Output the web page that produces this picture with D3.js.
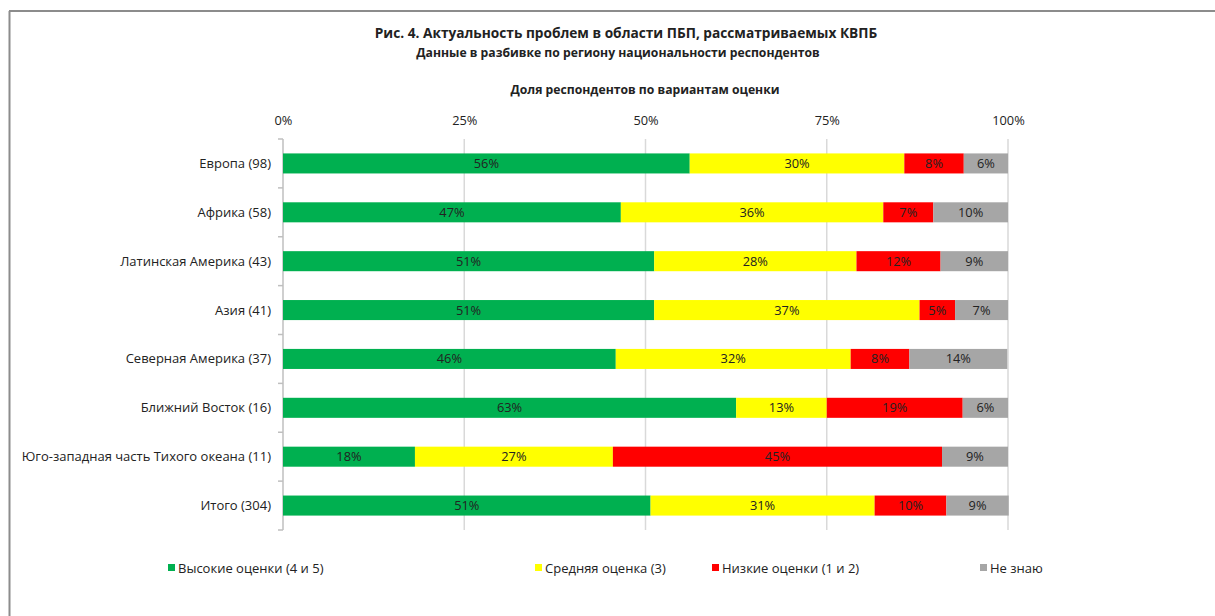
<!DOCTYPE html>
<html>
<head>
<meta charset="utf-8">
<script src="https://cdn.jsdelivr.net/npm/d3@7"></script>
<style>
  body { margin: 0; background: #fff; }
  text { font-family: "Open Sans", Lato, sans-serif; fill: #222; }
</style>
</head>
<body>
<svg id="chart" width="1215" height="616"></svg>
<script>
// regions (with respondent count) and shares in %
var regions = ["Европа (98)", "Африка (58)", "Латинская Америка (43)", "Азия (41)",
  "Северная Америка (37)", "Ближний Восток (16)", "Юго-западная часть Тихого океана (11)", "Итого (304)"];
var highScores = [56.1, 46.6, 51.2, 51.2, 45.9, 62.5, 18.2, 50.7];
var midScores  = [29.6, 36.2, 27.9, 36.6, 32.4, 12.5, 27.3, 30.9];
var lowScores  = [8.2, 6.9, 11.6, 4.9, 8.1, 18.75, 45.4, 9.9];
var dontKnow   = [6.1, 10.3, 9.3, 7.3, 13.5, 6.25, 9.1, 8.6];
var seriesNames = ["Высокие оценки (4 и 5)", "Средняя оценка (3)", "Низкие оценки (1 и 2)", "Не знаю"];
var seriesColors = ["#00b050", "#ffff00", "#ff0000", "#a6a6a6"];
var xTicks = [0, 25, 50, 75, 100];

var svg = d3.select("#chart");

// frame of the original picture (left and top edge)
svg.append("line").attr("x1", 9.5).attr("x2", 9.5).attr("y1", 11).attr("y2", 616)
  .attr("stroke", "#8c8c8c").attr("stroke-width", 2);
svg.append("line").attr("x1", 9).attr("x2", 1215).attr("y1", 11).attr("y2", 11)
  .attr("stroke", "#8c8c8c").attr("stroke-width", 2);

var x = d3.scaleLinear().domain([0, 100]).range([283, 1008]);
var y = d3.scaleBand().domain(regions).range([139, 530]).paddingInner(0.59).paddingOuter(0.295);

// titles
svg.append("text").attr("x", 626).attr("y", 38).attr("text-anchor", "middle")
  .attr("font-size", 13.7).attr("font-weight", "bold")
  .text("Рис. 4. Актуальность проблем в области ПБП, рассматриваемых КВПБ");
svg.append("text").attr("x", 618).attr("y", 57).attr("text-anchor", "middle")
  .attr("font-size", 12.2).attr("font-weight", "bold")
  .text("Данные в разбивке по региону национальности респондентов");
svg.append("text").attr("x", 645).attr("y", 94).attr("text-anchor", "middle")
  .attr("font-size", 12.2).attr("font-weight", "bold")
  .text("Доля респондентов по вариантам оценки");

// gridlines
svg.append("g").selectAll("line").data(xTicks).enter().append("line")
  .attr("x1", d => x(d)).attr("x2", d => x(d))
  .attr("y1", 139).attr("y2", 530)
  .attr("stroke", d => d == 0 ? "#bfbfbf" : "#d9d9d9").attr("stroke-width", 1.5);

// top tick labels
var xAxis = svg.append("g").attr("transform", "translate(0,128)")
  .call(d3.axisTop(x).tickValues(xTicks).tickFormat(d => d + "%").tickSize(0));
xAxis.select(".domain").remove();
xAxis.selectAll("text").attr("font-size", 12.8).attr("fill", "#222")
  .style("font-family", "'Open Sans', Lato, sans-serif");

// category ticks between bands
var bounds = d3.range(regions.length + 1).map(i => 139 + i * (391 / regions.length));
svg.append("g").selectAll("line").data(bounds).enter().append("line")
  .attr("x1", 278).attr("x2", 283).attr("y1", d => d).attr("y2", d => d)
  .attr("stroke", "#bfbfbf").attr("stroke-width", 1.5);

// category labels
svg.append("g").selectAll("text").data(regions).enter().append("text")
  .attr("x", 271).attr("y", d => y(d) + y.bandwidth() / 2)
  .attr("dy", "0.35em").attr("text-anchor", "end").attr("font-size", 13)
  .text(d => d);

// stacked bars
var rows = regions.map((r, i) => ({region: r, s0: highScores[i], s1: midScores[i], s2: lowScores[i], s3: dontKnow[i]}));
var stack = d3.stack().keys(["s0", "s1", "s2", "s3"]);
var layers = stack(rows);

var g = svg.append("g").selectAll("g").data(layers).enter().append("g")
  .attr("fill", (d, i) => seriesColors[i]);

g.selectAll("rect").data(d => d).enter().append("rect")
  .attr("x", d => x(d[0])).attr("width", d => x(d[1]) - x(d[0]))
  .attr("y", d => y(d.data.region)).attr("height", y.bandwidth());

g.selectAll("text").data(d => d).enter().append("text")
  .attr("x", d => (x(d[0]) + x(d[1])) / 2)
  .attr("y", d => y(d.data.region) + y.bandwidth() / 2)
  .attr("dy", "0.35em").attr("text-anchor", "middle").attr("font-size", 12.8)
  .text(d => Math.round(d[1] - d[0]) + "%");

// legend
var legendX = [168, 535, 712, 980];
var legend = svg.append("g").selectAll("g").data(seriesNames).enter().append("g")
  .attr("transform", (d, i) => "translate(" + legendX[i] + ",568)");
legend.append("rect").attr("x", 0).attr("y", -4).attr("width", 7).attr("height", 7)
  .attr("fill", (d, i) => seriesColors[i]);
legend.append("text").attr("x", 10).attr("dy", "0.35em").attr("font-size", 13).text(d => d);
</script>
</body>
</html>
